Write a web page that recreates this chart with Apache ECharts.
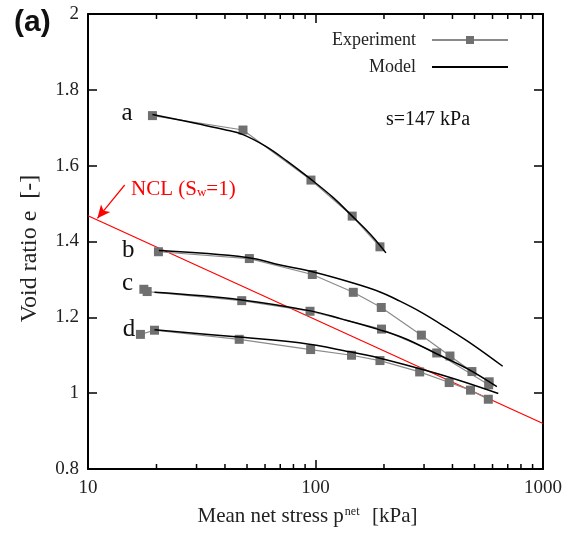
<!DOCTYPE html>
<html>
<head>
<meta charset="utf-8">
<script src="https://cdn.jsdelivr.net/npm/echarts@6/dist/echarts.min.js"></script>
<style>
html,body{margin:0;padding:0;background:#fff;}
#chart{width:575px;height:533px;}
</style>
</head>
<body>
<div id="chart"></div>
<script>
// ---- data ----
const xTickLabels = ['10', '100', '1000'];
const yTickValues = [0.8, 1, 1.2, 1.4, 1.6, 1.8, 2];
const xMinorTicks = [20, 30, 40, 50, 60, 70, 80, 90, 200, 300, 400, 500, 600, 700, 800, 900];

const expA_x = [19.2, 48, 95.5, 145, 192];
const expA_y = [1.732, 1.694, 1.562, 1.467, 1.386];
const modA_x = [19.2, 30, 40, 48, 60, 75, 95, 120, 145, 175, 204];
const modA_y = [1.735, 1.711, 1.695, 1.682, 1.652, 1.612, 1.565, 1.515, 1.467, 1.418, 1.370];

const expB_x = [20.4, 51.2, 96.8, 146.6, 194.6, 292, 390, 487, 580];
const expB_y = [1.373, 1.355, 1.313, 1.266, 1.226, 1.153, 1.098, 1.057, 1.030];
const modB_x = [20.5, 50, 70, 97, 145, 192, 227, 288, 378, 494, 665];
const modB_y = [1.376, 1.358, 1.338, 1.320, 1.291, 1.267, 1.247, 1.215, 1.172, 1.127, 1.071];

const expC_x = [17.6, 18.2, 47.4, 94.6, 195, 341, 577];
const expC_y = [1.274, 1.268, 1.244, 1.216, 1.169, 1.106, 1.022];
const modC_x = [19.6, 47.4, 95, 130, 192, 250, 335, 477, 627];
const modC_y = [1.266, 1.246, 1.217, 1.196, 1.167, 1.143, 1.106, 1.061, 1.017];

const expD_x = [17.0, 19.6, 46.2, 95.2, 144, 192, 287, 387, 480, 575];
const expD_y = [1.155, 1.166, 1.142, 1.115, 1.100, 1.086, 1.056, 1.028, 1.008, 0.984];
const modD_x = [19.6, 46, 85, 142, 192, 318, 447, 636];
const modD_y = [1.167, 1.148, 1.133, 1.109, 1.092, 1.057, 1.030, 0.999];

const ncl_x = [10, 1000];
const ncl_y = [1.468, 0.920];
const nclArrowFrom = [14.5, 1.549];
const nclArrowTo = [11.0, 1.461];

const xMin = 10, xMax = 1000, yMin = 0.8, yMax = 2, yInterval = 0.2;
// ---------------------------------------

const SERIF = '"Liberation Serif", "Times New Roman", serif';
const zip = (xs, ys) => xs.map((x, i) => [x, ys[i]]);

const expStyle = (xs, ys) => ({
  name: 'Experiment', type: 'line', data: zip(xs, ys),
  symbol: 'rect', symbolSize: 9, showSymbol: true,
  lineStyle: { color: '#8a8a8a', width: 1.2 },
  itemStyle: { color: '#707070' },
  z: 3, animation: false, silent: true
});
const modStyle = (xs, ys) => ({
  name: 'Model', type: 'line', data: zip(xs, ys),
  symbol: 'none', smooth: 0.4,
  lineStyle: { color: '#000', width: 1.5 },
  itemStyle: { color: '#000' },
  z: 4, animation: false, silent: true
});

const chart = echarts.init(document.getElementById('chart'), null, { renderer: 'canvas' });

const axisLineStyle = { color: '#000', width: 2 };
const tickStyle = { color: '#000', width: 1.5 };

chart.setOption({
  animation: false,
  backgroundColor: '#fff',
  grid: { left: 88, right: 32, top: 14, bottom: 64, containLabel: false },
  legend: {
    data: ['Experiment', { name: 'Model', itemStyle: { opacity: 0 } }],
    orient: 'vertical', align: 'right',
    right: 66, top: 31, padding: 0,
    itemWidth: 76, itemHeight: 10, itemGap: 9,
    textStyle: { fontFamily: SERIF, fontSize: 18, color: '#222', padding: [0, 11, 0, 0] },
    selectedMode: false
  },
  xAxis: [{
    type: 'log', logBase: 10, min: xMin, max: xMax, position: 'bottom',
    axisLine: { show: true, lineStyle: axisLineStyle },
    axisTick: { show: true, inside: true, length: 9, lineStyle: tickStyle },
    minorTick: { show: false },
    splitLine: { show: false },
    axisLabel: {
      margin: 10, fontFamily: SERIF, fontSize: 19, color: '#222',
      formatter: v => {
        const e = Math.round(Math.log10(v)) - 1;
        return xTickLabels[e] !== undefined ? xTickLabels[e] : '';
      }
    },
    name: 'Mean net stress p{sup|net}  [kPa]',
    nameLocation: 'middle', nameGap: 37,
    nameTextStyle: {
      fontFamily: SERIF, fontSize: 21, color: '#222', padding: [0, 16, 0, 0],
      rich: { sup: { fontFamily: SERIF, fontSize: 12, color: '#222', verticalAlign: 'top', padding: [0, 2, 0, 1] } }
    }
  }, {
    type: 'log', logBase: 10, min: xMin, max: xMax, position: 'top',
    axisLine: { show: true, lineStyle: axisLineStyle },
    axisTick: { show: true, inside: true, length: 9, lineStyle: tickStyle },
    splitLine: { show: false },
    axisLabel: { show: false }
  }],
  yAxis: [{
    type: 'value', min: yMin, max: yMax, interval: yInterval, position: 'left',
    axisLine: { show: true, lineStyle: axisLineStyle },
    axisTick: { show: true, inside: true, length: 9, lineStyle: tickStyle },
    splitLine: { show: false },
    axisLabel: {
      margin: 9, fontFamily: SERIF, fontSize: 19, color: '#222',
      formatter: v => {
        const m = yTickValues.find(t => Math.abs(t - v) < 1e-6);
        return m !== undefined ? String(m) : '';
      }
    },
    name: 'Void ratio e  [-]',
    nameLocation: 'middle', nameGap: 46,
    nameTextStyle: { fontFamily: SERIF, fontSize: 24, color: '#222', padding: [0, 14, 0, 0] }
  }, {
    type: 'value', min: yMin, max: yMax, interval: yInterval, position: 'right',
    axisLine: { show: true, lineStyle: axisLineStyle },
    axisTick: { show: true, inside: true, length: 9, lineStyle: tickStyle },
    splitLine: { show: false },
    axisLabel: { show: false }
  }],
  series: [
    {
      name: 'minorTicks', type: 'custom', coordinateSystem: 'cartesian2d',
      xAxisIndex: 0, yAxisIndex: 0, silent: true, clip: false, z: 6,
      data: xMinorTicks.map(v => [v, yMin]),
      renderItem: (params, api) => {
        const v = api.value(0);
        const b = api.coord([v, yMin]);
        const t = api.coord([v, yMax]);
        return {
          type: 'group',
          children: [
            { type: 'line', shape: { x1: b[0], y1: b[1], x2: b[0], y2: b[1] - 5 }, style: { stroke: '#000', lineWidth: 1.5 } },
            { type: 'line', shape: { x1: t[0], y1: t[1], x2: t[0], y2: t[1] + 5 }, style: { stroke: '#000', lineWidth: 1.5 } }
          ]
        };
      }
    },
    {
      name: 'NCL', type: 'line', data: zip(ncl_x, ncl_y), symbol: 'none',
      lineStyle: { color: '#ff0000', width: 1.2 }, z: 2, silent: true,
      markLine: {
        silent: true, animation: false,
        symbol: ['none', 'arrow'], symbolSize: [9, 13],
        label: { show: false },
        lineStyle: { color: '#ff0000', width: 1.2, type: 'solid' },
        data: [[{ coord: nclArrowFrom }, { coord: nclArrowTo }]]
      }
    },
    expStyle(expA_x, expA_y),
    modStyle(modA_x, modA_y),
    expStyle(expB_x, expB_y),
    modStyle(modB_x, modB_y),
    expStyle(expC_x, expC_y),
    modStyle(modC_x, modC_y),
    expStyle(expD_x, expD_y),
    modStyle(modD_x, modD_y)
  ],
  graphic: [
    { type: 'text', left: 14, top: 8, style: { text: '(a)', font: 'bold 30px "Liberation Sans", Arial, sans-serif', fill: '#111' } },
    { type: 'text', x: 127, y: 113.5, style: { text: 'a', font: '25px ' + SERIF, fill: '#111', textAlign: 'center', textVerticalAlign: 'middle' } },
    { type: 'text', x: 128.3, y: 250, style: { text: 'b', font: '25px ' + SERIF, fill: '#111', textAlign: 'center', textVerticalAlign: 'middle' } },
    { type: 'text', x: 127.5, y: 283, style: { text: 'c', font: '25px ' + SERIF, fill: '#111', textAlign: 'center', textVerticalAlign: 'middle' } },
    { type: 'text', x: 129, y: 329, style: { text: 'd', font: '25px ' + SERIF, fill: '#111', textAlign: 'center', textVerticalAlign: 'middle' } },
    { type: 'text', x: 386, y: 120, style: { text: 's=147 kPa', font: '20px ' + SERIF, fill: '#111', textVerticalAlign: 'middle' } },
    { type: 'text', x: 131, y: 189, style: {
        text: 'NCL (S{sub|w}=1)', font: '21px ' + SERIF, fill: '#ff0000', textVerticalAlign: 'middle',
        rich: { sub: { fontFamily: SERIF, fontSize: 13, fill: '#ff0000', verticalAlign: 'bottom', padding: [4, 0, 0, 0] } }
    } }
  ]
});
</script>
</body>
</html>
